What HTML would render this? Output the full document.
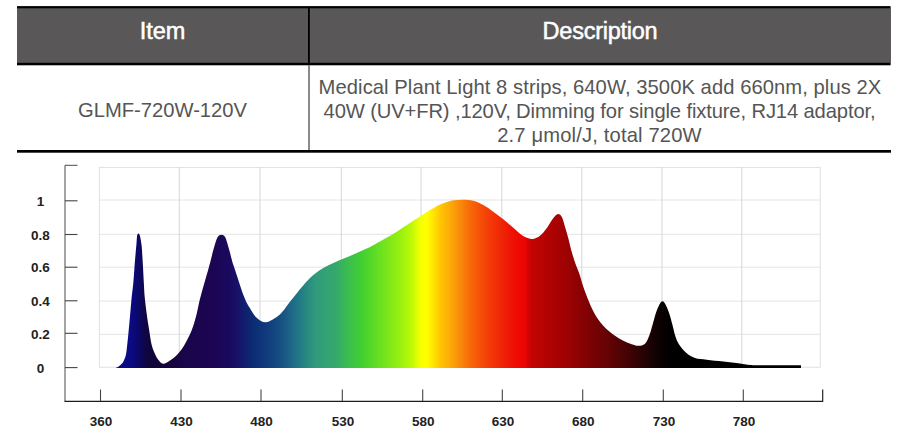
<!DOCTYPE html>
<html><head><meta charset="utf-8"><title>Spec</title>
<style>
html,body{margin:0;padding:0;background:#fff;}
body{width:900px;height:433px;position:relative;overflow:hidden;font-family:"Liberation Sans",sans-serif;}
.abs{position:absolute;}
.hd{background:#595758;border-top:2px solid #000;border-bottom:2.5px solid #000;left:17px;top:6px;width:873.5px;height:55px;}
.t{position:absolute;z-index:2;white-space:nowrap;text-align:center;color:#555555;font-size:20.2px;line-height:24px;}
.h{position:absolute;white-space:nowrap;text-align:center;color:#fff;font-size:23.5px;line-height:26px;-webkit-text-stroke:0.5px #fff;z-index:2;}
.cl{font-family:"Liberation Sans",sans-serif;font-weight:bold;font-size:13.5px;fill:#222;}
</style></head><body>
<div class="h" style="left:17px;width:291px;top:18px;">Item</div>
<div class="h" style="left:310px;width:580px;top:18px;letter-spacing:-0.25px">Description</div>
<div class="t" style="left:17px;width:291px;top:97.8px;">GLMF-720W-120V</div>
<div class="t" style="left:310px;width:580px;top:75px;letter-spacing:0.065px">Medical Plant Light 8 strips, 640W, 3500K add 660nm, plus 2X</div>
<div class="t" style="left:309.5px;width:580px;top:98.7px;letter-spacing:-0.13px">40W (UV+FR) ,120V, Dimming for single fixture, RJ14 adaptor,</div>
<div class="t" style="left:309.5px;width:580px;top:122.5px;letter-spacing:0.15px">2.7 μmol/J, total 720W</div>
<svg width="900" height="433" viewBox="0 0 900 433" style="position:absolute;left:0;top:0">
<defs><linearGradient id="sp" gradientUnits="userSpaceOnUse" x1="116" y1="0" x2="801" y2="0"><stop offset="0.0000" stop-color="#0c0a8a"/><stop offset="0.0219" stop-color="#0a0a84"/><stop offset="0.0321" stop-color="#0c086a"/><stop offset="0.0409" stop-color="#0e064a"/><stop offset="0.0526" stop-color="#100536"/><stop offset="0.0715" stop-color="#150438"/><stop offset="0.1007" stop-color="#1a054a"/><stop offset="0.1445" stop-color="#1c0554"/><stop offset="0.1664" stop-color="#190a60"/><stop offset="0.1796" stop-color="#16146a"/><stop offset="0.1927" stop-color="#0e2470"/><stop offset="0.2044" stop-color="#0d2f76"/><stop offset="0.2175" stop-color="#10397c"/><stop offset="0.2321" stop-color="#144680"/><stop offset="0.2467" stop-color="#1a5884"/><stop offset="0.2613" stop-color="#1f7088"/><stop offset="0.2759" stop-color="#268580"/><stop offset="0.2905" stop-color="#2f9a7c"/><stop offset="0.3051" stop-color="#32a274"/><stop offset="0.3197" stop-color="#34a86c"/><stop offset="0.3416" stop-color="#3cc04c"/><stop offset="0.3591" stop-color="#42cf32"/><stop offset="0.3854" stop-color="#6ae020"/><stop offset="0.4146" stop-color="#98f010"/><stop offset="0.4307" stop-color="#bcf808"/><stop offset="0.4438" stop-color="#f2ff00"/><stop offset="0.4526" stop-color="#ffff00"/><stop offset="0.4628" stop-color="#ffe600"/><stop offset="0.4745" stop-color="#ffc200"/><stop offset="0.4891" stop-color="#fba808"/><stop offset="0.5022" stop-color="#f88a0a"/><stop offset="0.5168" stop-color="#f86a08"/><stop offset="0.5314" stop-color="#f55008"/><stop offset="0.5460" stop-color="#f43a08"/><stop offset="0.5606" stop-color="#f02806"/><stop offset="0.5752" stop-color="#ee1505"/><stop offset="0.5869" stop-color="#ee0a04"/><stop offset="0.5971" stop-color="#ec0503"/><stop offset="0.6044" stop-color="#c80303"/><stop offset="0.6190" stop-color="#ba0303"/><stop offset="0.6409" stop-color="#aa0203"/><stop offset="0.6628" stop-color="#9a0203"/><stop offset="0.6920" stop-color="#7c0203"/><stop offset="0.7212" stop-color="#600304"/><stop offset="0.7504" stop-color="#400305"/><stop offset="0.7723" stop-color="#240304"/><stop offset="0.7942" stop-color="#0a0102"/><stop offset="0.8117" stop-color="#000000"/><stop offset="1.0000" stop-color="#000000"/></linearGradient></defs>
<rect x="17" y="6.1" width="873.6" height="59.2" fill="#000"/>
<rect x="17" y="8.3" width="291" height="54.5" fill="#595758"/>
<rect x="309.8" y="8.3" width="580.8" height="54.5" fill="#595758"/>
<rect x="308.3" y="65.3" width="1.4" height="85" fill="#5a5a5a"/>
<rect x="17" y="150" width="874" height="2.7" fill="#000"/>
<rect x="99.4" y="167.4" width="720.8" height="199.8" fill="none" stroke="#e0e0e0" stroke-width="1"/>
<line x1="99.5" x2="820" y1="200.0" y2="200.0" stroke="#e4e4e4" stroke-width="1"/>
<line x1="99.5" x2="820" y1="234.3" y2="234.3" stroke="#e4e4e4" stroke-width="1"/>
<line x1="99.5" x2="820" y1="267.2" y2="267.2" stroke="#e4e4e4" stroke-width="1"/>
<line x1="99.5" x2="820" y1="301.1" y2="301.1" stroke="#e4e4e4" stroke-width="1"/>
<line x1="99.5" x2="820" y1="334.3" y2="334.3" stroke="#e4e4e4" stroke-width="1"/>
<line x1="179.3" x2="179.3" y1="167.5" y2="367.5" stroke="#d6d6d6" stroke-width="1"/>
<line x1="260.0" x2="260.0" y1="167.5" y2="367.5" stroke="#d6d6d6" stroke-width="1"/>
<line x1="341.3" x2="341.3" y1="167.5" y2="367.5" stroke="#d6d6d6" stroke-width="1"/>
<line x1="421.0" x2="421.0" y1="167.5" y2="367.5" stroke="#d6d6d6" stroke-width="1"/>
<line x1="501.8" x2="501.8" y1="167.5" y2="367.5" stroke="#d6d6d6" stroke-width="1"/>
<line x1="581.8" x2="581.8" y1="167.5" y2="367.5" stroke="#d6d6d6" stroke-width="1"/>
<line x1="662.0" x2="662.0" y1="167.5" y2="367.5" stroke="#d6d6d6" stroke-width="1"/>
<line x1="741.8" x2="741.8" y1="167.5" y2="367.5" stroke="#d6d6d6" stroke-width="1"/>
<path d="M116.0,367.8 C116.5,367.6 118.0,367.0 119.0,366.3 C120.0,365.6 121.0,364.5 121.7,363.7 C122.4,362.9 122.6,363.1 123.3,361.7 C124.0,360.3 125.1,358.1 125.8,355.3 C126.5,352.5 126.7,349.2 127.2,345.0 C127.7,340.8 128.2,335.5 128.7,330.3 C129.2,325.1 129.7,319.2 130.2,313.7 C130.7,308.1 131.2,301.9 131.7,297.0 C132.2,292.1 132.7,289.0 133.2,284.0 C133.7,279.0 134.1,272.7 134.5,267.0 C134.9,261.3 135.6,253.7 135.9,250.0 C136.2,246.3 136.2,246.9 136.4,244.7 C136.6,242.4 136.8,238.2 137.0,236.5 C137.2,234.8 137.4,234.7 137.6,234.2 C137.8,233.7 138.1,233.5 138.4,233.5 C138.7,233.5 139.0,233.7 139.3,234.2 C139.6,234.7 139.7,234.8 140.1,236.5 C140.5,238.2 141.2,242.4 141.5,244.7 C141.8,246.9 141.8,246.3 142.0,250.0 C142.2,253.7 142.7,261.3 143.0,267.0 C143.3,272.7 143.6,279.0 143.9,284.0 C144.2,289.0 144.2,292.1 144.7,297.0 C145.2,301.9 145.9,308.1 146.7,313.7 C147.4,319.2 148.4,325.1 149.2,330.3 C150.0,335.5 150.7,341.1 151.7,345.0 C152.7,348.9 153.8,351.3 155.0,353.9 C156.2,356.5 157.5,359.0 158.9,360.6 C160.3,362.2 161.5,363.8 163.3,363.8 C165.2,363.8 167.6,362.2 170.0,360.6 C172.4,359.0 175.4,356.5 177.8,353.9 C180.2,351.3 182.1,348.9 184.4,345.0 C186.7,341.1 189.6,335.5 191.7,330.3 C193.8,325.1 195.2,319.2 196.7,313.7 C198.2,308.1 198.4,304.8 200.5,297.0 C202.6,289.2 207.4,272.6 209.0,266.7 C210.6,260.8 209.7,264.4 210.3,261.9 C211.0,259.4 212.1,254.6 212.9,251.6 C213.7,248.6 214.4,245.9 215.1,243.7 C215.8,241.5 216.4,239.5 217.1,238.2 C217.8,236.8 218.3,236.2 219.0,235.6 C219.7,235.0 220.6,234.7 221.4,234.7 C222.2,234.7 223.1,235.0 223.8,235.6 C224.5,236.2 225.1,236.8 225.7,238.2 C226.3,239.5 226.8,241.5 227.5,243.7 C228.2,245.9 228.9,248.6 229.7,251.6 C230.5,254.6 231.7,259.4 232.4,261.9 C233.1,264.4 232.0,260.8 234.0,266.7 C236.0,272.6 241.5,290.1 244.2,297.0 C246.9,303.9 247.9,304.7 250.0,308.2 C252.1,311.7 254.1,315.4 256.7,317.8 C259.3,320.2 262.5,322.4 265.8,322.3 C269.1,322.2 273.8,318.9 276.7,317.0 C279.6,315.1 280.9,313.3 283.0,311.0 C285.1,308.7 287.0,305.6 289.0,303.0 C291.0,300.4 293.0,298.0 295.0,295.5 C297.0,293.0 298.5,290.9 301.0,288.0 C303.5,285.1 306.8,281.0 310.0,278.0 C313.2,275.0 316.7,272.2 320.0,270.0 C323.3,267.8 326.7,266.2 330.0,264.5 C333.3,262.8 336.7,261.4 340.0,260.0 C343.3,258.6 346.7,257.4 350.0,256.0 C353.3,254.6 356.7,253.0 360.0,251.5 C363.3,250.0 366.4,248.8 370.0,247.0 C373.6,245.2 377.2,243.1 381.7,240.5 C386.1,237.9 391.4,235.0 396.7,231.7 C402.0,228.4 407.8,224.4 413.3,220.8 C418.9,217.2 425.0,212.9 430.0,210.0 C435.0,207.1 439.4,204.9 443.3,203.3 C447.2,201.7 450.0,200.9 453.3,200.3 C456.6,199.7 460.0,199.6 463.3,199.7 C466.6,199.8 470.0,199.9 473.3,200.8 C476.6,201.7 480.0,203.2 483.3,205.0 C486.6,206.8 490.0,209.3 493.3,211.7 C496.6,214.1 500.0,216.5 503.3,219.2 C506.6,221.9 510.2,225.2 513.3,227.8 C516.4,230.4 519.2,233.2 521.7,235.0 C524.2,236.8 526.4,237.7 528.3,238.3 C530.2,239.0 531.3,239.3 533.3,238.9 C535.2,238.5 537.8,237.6 540.0,235.8 C542.2,234.0 544.6,231.1 546.7,228.3 C548.8,225.5 550.7,221.5 552.5,219.2 C554.3,216.8 556.0,214.6 557.5,214.2 C559.0,213.8 560.5,214.6 561.7,216.7 C563.0,218.8 563.9,223.1 565.0,226.7 C566.1,230.3 567.2,234.1 568.3,238.3 C569.4,242.5 570.5,247.5 571.7,251.7 C572.9,255.9 574.1,259.9 575.4,263.5 C576.6,267.1 577.9,269.4 579.2,273.3 C580.5,277.2 581.8,282.2 583.3,286.7 C584.8,291.1 587.0,296.7 588.3,300.0 C589.6,303.3 590.0,304.2 591.0,306.5 C592.0,308.8 593.3,311.3 594.5,313.5 C595.7,315.7 597.0,317.7 598.3,319.5 C599.5,321.3 600.6,322.7 602.0,324.3 C603.4,325.9 604.5,327.3 606.7,329.2 C608.9,331.1 612.2,333.9 615.0,335.8 C617.8,337.7 620.5,339.4 623.3,340.8 C626.1,342.2 629.2,343.4 631.7,344.2 C634.2,345.0 636.1,345.9 638.3,345.8 C640.5,345.7 643.2,345.4 645.0,343.7 C646.8,342.0 648.0,338.9 649.2,335.8 C650.5,332.7 651.4,328.8 652.5,325.0 C653.6,321.2 654.7,316.6 655.8,313.3 C656.9,310.0 658.1,307.0 659.2,305.0 C660.3,303.0 661.4,301.3 662.5,301.3 C663.6,301.3 664.7,303.0 665.8,305.0 C666.9,307.0 668.1,310.0 669.2,313.3 C670.3,316.6 671.4,321.0 672.5,325.0 C673.6,329.0 674.5,334.0 675.8,337.5 C677.0,341.0 678.2,343.2 680.0,345.8 C681.8,348.4 684.2,351.3 686.7,353.3 C689.2,355.3 691.7,356.9 695.0,358.0 C698.3,359.1 702.0,359.1 706.7,359.7 C711.4,360.3 717.8,360.9 723.3,361.5 C728.8,362.1 735.5,362.9 740.0,363.5 C744.5,364.1 745.5,364.7 750.0,365.0 C754.5,365.3 758.2,365.2 766.7,365.3 C775.2,365.4 795.3,365.3 801.0,365.3 L801,368 L116,368 Z" fill="url(#sp)"/>
<path d="M77.5,165.3 H65 V401.3" fill="none" stroke="#4a4a4a" stroke-width="1"/>
<path d="M64.5,401.3 H822.7 V389.5" fill="none" stroke="#1c1c1c" stroke-width="1.15"/>
<line x1="65" x2="77.5" y1="200.8" y2="200.8" stroke="#444" stroke-width="1.1"/>
<line x1="65" x2="77.5" y1="234.5" y2="234.5" stroke="#444" stroke-width="1.1"/>
<line x1="65" x2="77.5" y1="267.2" y2="267.2" stroke="#444" stroke-width="1.1"/>
<line x1="65" x2="77.5" y1="300.8" y2="300.8" stroke="#444" stroke-width="1.1"/>
<line x1="65" x2="77.5" y1="333.3" y2="333.3" stroke="#444" stroke-width="1.1"/>
<line x1="65" x2="77.5" y1="367.6" y2="367.6" stroke="#444" stroke-width="1.1"/>
<line x1="100.5" x2="100.5" y1="389.5" y2="401.3" stroke="#444" stroke-width="1.1"/>
<line x1="181.0" x2="181.0" y1="389.5" y2="401.3" stroke="#444" stroke-width="1.1"/>
<line x1="261.0" x2="261.0" y1="389.5" y2="401.3" stroke="#444" stroke-width="1.1"/>
<line x1="342.3" x2="342.3" y1="389.5" y2="401.3" stroke="#444" stroke-width="1.1"/>
<line x1="422.7" x2="422.7" y1="389.5" y2="401.3" stroke="#444" stroke-width="1.1"/>
<line x1="502.3" x2="502.3" y1="389.5" y2="401.3" stroke="#444" stroke-width="1.1"/>
<line x1="582.7" x2="582.7" y1="389.5" y2="401.3" stroke="#444" stroke-width="1.1"/>
<line x1="663.3" x2="663.3" y1="389.5" y2="401.3" stroke="#444" stroke-width="1.1"/>
<line x1="743.3" x2="743.3" y1="389.5" y2="401.3" stroke="#444" stroke-width="1.1"/>
<text x="101.1" y="426" text-anchor="middle" class="cl">360</text>
<text x="181.6" y="426" text-anchor="middle" class="cl">430</text>
<text x="261.6" y="426" text-anchor="middle" class="cl">480</text>
<text x="342.9" y="426" text-anchor="middle" class="cl">530</text>
<text x="423.3" y="426" text-anchor="middle" class="cl">580</text>
<text x="502.9" y="426" text-anchor="middle" class="cl">630</text>
<text x="583.3" y="426" text-anchor="middle" class="cl">680</text>
<text x="663.9" y="426" text-anchor="middle" class="cl">730</text>
<text x="743.9" y="426" text-anchor="middle" class="cl">780</text>
<text x="40.5" y="206.0" text-anchor="middle" class="cl">1</text>
<text x="40.5" y="239.7" text-anchor="middle" class="cl">0.8</text>
<text x="40.5" y="272.4" text-anchor="middle" class="cl">0.6</text>
<text x="40.5" y="306.0" text-anchor="middle" class="cl">0.4</text>
<text x="40.5" y="338.5" text-anchor="middle" class="cl">0.2</text>
<text x="40.5" y="372.8" text-anchor="middle" class="cl">0</text>
</svg>
</body></html>
